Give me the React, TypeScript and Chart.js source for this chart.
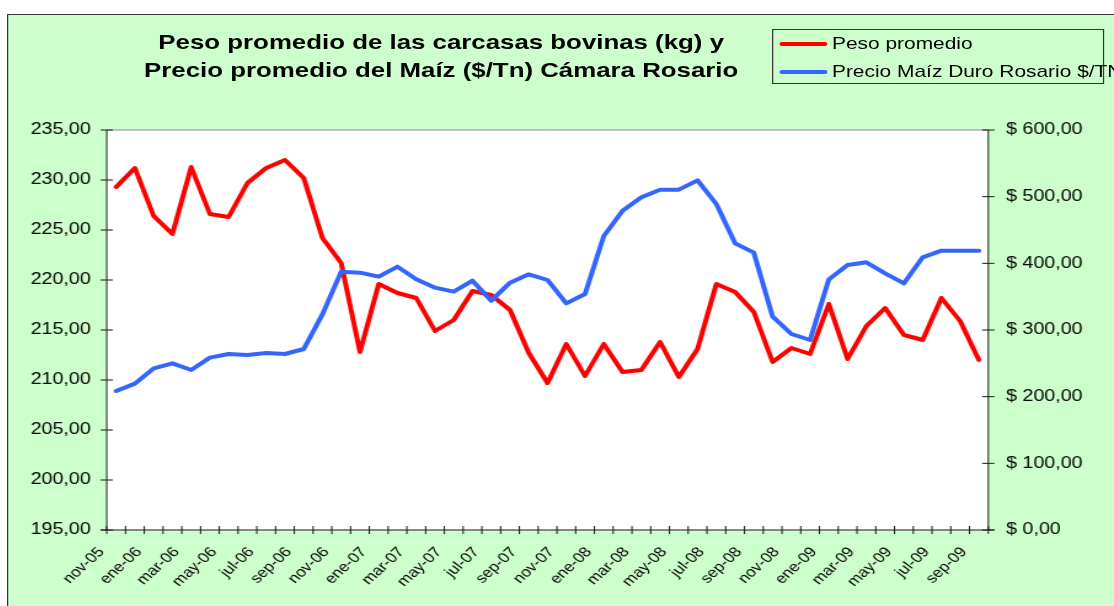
import React, { useEffect, useRef } from 'react';
import { Chart, registerables } from 'chart.js';

Chart.register(...registerables);

// ---- data ----
const months: string[] = [
  'nov-05', 'dic-05',
  'ene-06', 'feb-06', 'mar-06', 'abr-06', 'may-06', 'jun-06', 'jul-06', 'ago-06', 'sep-06', 'oct-06', 'nov-06', 'dic-06',
  'ene-07', 'feb-07', 'mar-07', 'abr-07', 'may-07', 'jun-07', 'jul-07', 'ago-07', 'sep-07', 'oct-07', 'nov-07', 'dic-07',
  'ene-08', 'feb-08', 'mar-08', 'abr-08', 'may-08', 'jun-08', 'jul-08', 'ago-08', 'sep-08', 'oct-08', 'nov-08', 'dic-08',
  'ene-09', 'feb-09', 'mar-09', 'abr-09', 'may-09', 'jun-09', 'jul-09', 'ago-09', 'sep-09',
];

const pesoPromedio: number[] = [
  229.3, 231.2, 226.4, 224.6, 231.3, 226.6, 226.3, 229.7, 231.2, 232.0, 230.2, 224.2,
  221.7, 212.8, 219.6, 218.7, 218.2, 214.9, 216.0, 218.9, 218.5, 217.0, 212.7, 209.7,
  213.6, 210.4, 213.6, 210.8, 211.0, 213.8, 210.3, 213.1, 219.6, 218.8, 216.8, 211.8,
  213.2, 212.6, 217.6, 212.1, 215.4, 217.2, 214.5, 214.0, 218.2, 215.9, 212.0,
];

const precioMaiz: number[] = [
  208.5, 219.5, 242.5, 250, 240, 258.5, 264, 262.5, 265.5, 264, 271.5, 323.5,
  387.5, 386, 380, 395, 376, 363.5, 357.5, 374, 344, 371, 383.5, 375,
  340, 354, 441, 479, 499, 510.5, 510.5, 524.5, 489, 430, 416, 320,
  294, 285, 376, 397.5, 401.5, 385, 370, 409, 419, 419, 419,
];

const titleLines: string[] = [
  'Peso promedio de las carcasas bovinas (kg) y',
  'Precio promedio del Maíz ($/Tn) Cámara Rosario',
];
const seriesNames: string[] = ['Peso promedio', 'Precio Maíz Duro Rosario $/TN'];

// ---- look ----
const RED = '#FF0000';
const BLUE = '#3366FF';
const GREEN = '#CCFFCC';
const FONT = '"Liberation Sans", Arial, Helvetica, sans-serif';
const STRETCH = 1.23;
const CW = 910;
const CH = 600;
const PLOT_LEFT = 80.1;
const PLOT_RIGHT = 796.8;
const PLOT_TOP = 115;
const PLOT_BOTTOM = 515;

const fmt = (v: number) => v.toFixed(2).replace('.', ',');

const axesPlugin = {
  id: 'excelAxes',
  beforeDraw(chart: any) {
    const { ctx, chartArea: a } = chart;
    ctx.save();
    ctx.fillStyle = '#FFFFFF';
    ctx.fillRect(a.left, a.top, a.right - a.left, a.bottom - a.top);
    ctx.restore();
  },
  beforeDatasetsDraw(chart: any) {
    const { ctx, chartArea: a, scales } = chart;
    ctx.save();
    ctx.lineWidth = 1;
    // top border
    ctx.strokeStyle = '#8C8C8C';
    ctx.beginPath();
    ctx.moveTo(a.left, a.top);
    ctx.lineTo(a.right, a.top);
    ctx.stroke();
    // axes
    ctx.strokeStyle = '#1A1A1A';
    ctx.beginPath();
    ctx.moveTo(a.left, a.top);
    ctx.lineTo(a.left, a.bottom);
    ctx.moveTo(a.right, a.top);
    ctx.lineTo(a.right, a.bottom);
    ctx.moveTo(a.left - 5, a.bottom);
    ctx.lineTo(a.right + 5, a.bottom);
    // left ticks
    scales.y.ticks.forEach((t: any) => {
      const py = scales.y.getPixelForValue(t.value);
      ctx.moveTo(a.left - 5, py);
      ctx.lineTo(a.left + 5, py);
    });
    // right ticks
    scales.y1.ticks.forEach((t: any) => {
      const py = scales.y1.getPixelForValue(t.value);
      ctx.moveTo(a.right - 5, py);
      ctx.lineTo(a.right + 5, py);
    });
    // category boundary ticks
    const n = months.length;
    const w = (a.right - a.left) / n;
    for (let k = 0; k <= n; k++) {
      const px = a.left + k * w;
      ctx.moveTo(px, a.bottom - 4);
      ctx.lineTo(px, a.bottom + 4);
    }
    ctx.stroke();
    ctx.restore();
  },
};

export default function App() {
  const canvasRef = useRef<HTMLCanvasElement | null>(null);

  useEffect(() => {
    if (!canvasRef.current) return;
    const chart = new Chart(canvasRef.current, {
      type: 'line',
      data: {
        labels: months,
        datasets: [
          {
            label: seriesNames[0],
            data: pesoPromedio,
            yAxisID: 'y',
            borderColor: RED,
            backgroundColor: RED,
            borderWidth: 4,
            pointRadius: 0,
            tension: 0,
            borderJoinStyle: 'round',
            borderCapStyle: 'round',
            order: 1,
          },
          {
            label: seriesNames[1],
            data: precioMaiz,
            yAxisID: 'y1',
            borderColor: BLUE,
            backgroundColor: BLUE,
            borderWidth: 4,
            pointRadius: 0,
            tension: 0,
            borderJoinStyle: 'round',
            borderCapStyle: 'round',
            order: 0,
          },
        ],
      },
      options: {
        responsive: false,
        animation: false,
        devicePixelRatio: 1,
        events: [],
        layout: { padding: { top: PLOT_TOP, left: 0, right: 0, bottom: 0 } },
        plugins: {
          legend: { display: false },
          title: { display: false },
          tooltip: { enabled: false },
        },
        scales: {
          x: {
            type: 'category',
            offset: true,
            grid: { display: false, drawTicks: false },
            border: { display: false },
            ticks: {
              autoSkip: false,
              minRotation: 48,
              maxRotation: 48,
              padding: 14,
              labelOffset: -12,
              color: '#000',
              font: { family: FONT, size: 14 },
              callback: (_v: any, i: number) => (i % 2 === 0 ? months[i] : ''),
            },
            afterFit: (s: any) => {
              s.height = CH - PLOT_BOTTOM;
            },
          },
          y: {
            position: 'left',
            min: 195,
            max: 235,
            grid: { display: false, drawTicks: false },
            border: { display: false },
            ticks: {
              stepSize: 5,
              padding: 13,
              color: '#000',
              font: { family: FONT, size: 16 },
              callback: (v: any) => fmt(Number(v)),
            },
            afterFit: (s: any) => {
              s.width = PLOT_LEFT;
            },
          },
          y1: {
            position: 'right',
            min: 0,
            max: 600,
            grid: { display: false, drawTicks: false },
            border: { display: false },
            ticks: {
              stepSize: 100,
              padding: 14.4,
              color: '#000',
              font: { family: FONT, size: 16 },
              callback: (v: any) => '$ ' + fmt(Number(v)),
            },
            afterFit: (s: any) => {
              s.width = CW - PLOT_RIGHT;
            },
          },
        },
      },
      plugins: [axesPlugin],
    } as any);
    return () => chart.destroy();
  }, []);

  return (
    <div
      style={{
        position: 'fixed',
        left: 0,
        top: 0,
        width: '100vw',
        height: '100vh',
        overflow: 'hidden',
        background: '#FFFFFF',
      }}
    >
      <div
        style={{
          position: 'absolute',
          left: 7,
          top: 14,
          width: CW,
          height: CH,
          border: '1px solid #333333',
          background: GREEN,
          transform: `scaleX(${STRETCH})`,
          transformOrigin: '0 0',
          fontFamily: FONT,
          color: '#000',
        }}
      >
        <canvas
          ref={canvasRef}
          width={CW}
          height={CH}
          style={{ position: 'absolute', left: 0, top: 0, display: 'block' }}
        />
        <div
          style={{
            position: 'absolute',
            left: 52,
            top: 12.5,
            width: 600,
            textAlign: 'center',
            fontWeight: 'bold',
            fontSize: 21,
            lineHeight: '28.3px',
            whiteSpace: 'nowrap',
          }}
        >
          <div>{titleLines[0]}</div>
          <div>{titleLines[1]}</div>
        </div>
        <div
          style={{
            position: 'absolute',
            left: 621.2,
            top: 14.3,
            width: 270,
            height: 55,
            border: '1px solid #333333',
            boxSizing: 'border-box',
          }}
        >
          {seriesNames.map((name, i) => (
            <div key={name}>
              <div
                style={{
                  position: 'absolute',
                  left: 4.5,
                  top: (i === 0 ? 13.5 : 41.9) - 2,
                  width: 39.5,
                  height: 4,
                  borderRadius: 2,
                  background: i === 0 ? RED : BLUE,
                }}
              />
              <div
                style={{
                  position: 'absolute',
                  left: 47.5,
                  top: (i === 0 ? 13.5 : 41.9) - 11,
                  height: 22,
                  lineHeight: '22px',
                  fontSize: 17,
                  whiteSpace: 'nowrap',
                }}
              >
                {name}
              </div>
            </div>
          ))}
        </div>
      </div>
    </div>
  );
}
